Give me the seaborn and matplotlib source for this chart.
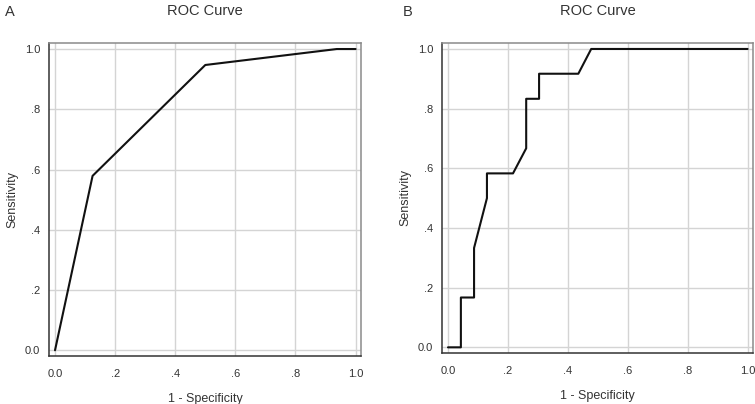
import numpy as np
import pandas as pd
import matplotlib.pyplot as plt
import seaborn as sns

# panel A: ROC points (1 - specificity, sensitivity)
fpr_a = [0.0, 0.125, 0.5, 0.9375, 1.0]
tpr_a = [0.0, 0.579, 0.947, 1.0, 1.0]

# panel B: stepwise ROC curve
fpr_b = [0.0, 0.043, 0.043, 0.087, 0.087, 0.130, 0.130, 0.217, 0.261, 0.261,
         0.304, 0.304, 0.435, 0.478, 1.0]
tpr_b = [0.0, 0.0, 0.167, 0.167, 0.333, 0.5, 0.583, 0.583, 0.667, 0.833,
         0.833, 0.917, 0.917, 1.0, 1.0]

ticks = [0.0, 0.2, 0.4, 0.6, 0.8, 1.0]
tick_labels = ["0.0", ".2", ".4", ".6", ".8", "1.0"]
panel_labels = ["A", "B"]

sns.set_style("white")
plt.rcParams['font.family'] = ['Liberation Sans', 'DejaVu Sans']

fig = plt.figure(figsize=(7.55, 4.04), dpi=100)
ax_a = fig.add_axes([49 / 755, 1 - 356 / 404, 312 / 755, 313 / 404])
ax_b = fig.add_axes([442 / 755, 1 - 353 / 404, 311 / 755, 310 / 404])

curves = [(ax_a, fpr_a, tpr_a), (ax_b, fpr_b, tpr_b)]
for (ax, fpr, tpr), label in zip(curves, panel_labels):
    df = pd.DataFrame({"fpr": fpr, "tpr": tpr})
    sns.lineplot(data=df, x="fpr", y="tpr", ax=ax, sort=False, estimator=None,
                 color="#111111", linewidth=1.5, zorder=3)
    ax.set_xlim(-0.02, 1.018)
    ax.set_ylim(-0.019, 1.02)
    ax.set_xticks(ticks)
    ax.set_xticklabels(tick_labels)
    ax.set_yticks(ticks)
    ax.set_yticklabels(tick_labels)
    ax.grid(True, color="#d4d4d4", linewidth=1.0)
    ax.set_axisbelow(True)
    ax.tick_params(axis="both", direction="out", length=3, width=0.9,
                   color="#444444", labelsize=8, labelcolor="#333333")
    ax.tick_params(axis="x", pad=6.5)
    ax.tick_params(axis="y", pad=3.5)
    for side in ["left", "bottom"]:
        ax.spines[side].set_color("#333333")
        ax.spines[side].set_linewidth(1.1)
    for side in ["top", "right"]:
        ax.spines[side].set_color("#8a8a8a")
        ax.spines[side].set_linewidth(1.1)
    ax.set_xlabel("1 - Specificity", fontsize=9, color="#333333", labelpad=10)
    ax.set_ylabel("Sensitivity", fontsize=9, color="#333333")
    ax.yaxis.set_label_coords(-0.097, 0.5)
    ax.set_title("ROC Curve", fontsize=10.5, color="#333333", pad=20)

fig.text(5 / 755, 1 - 12 / 404, panel_labels[0], fontsize=10.5, color="#333333", va="center")
fig.text(403 / 755, 1 - 12 / 404, panel_labels[1], fontsize=10.5, color="#333333", va="center")

fig.savefig("out.png", dpi=100)
